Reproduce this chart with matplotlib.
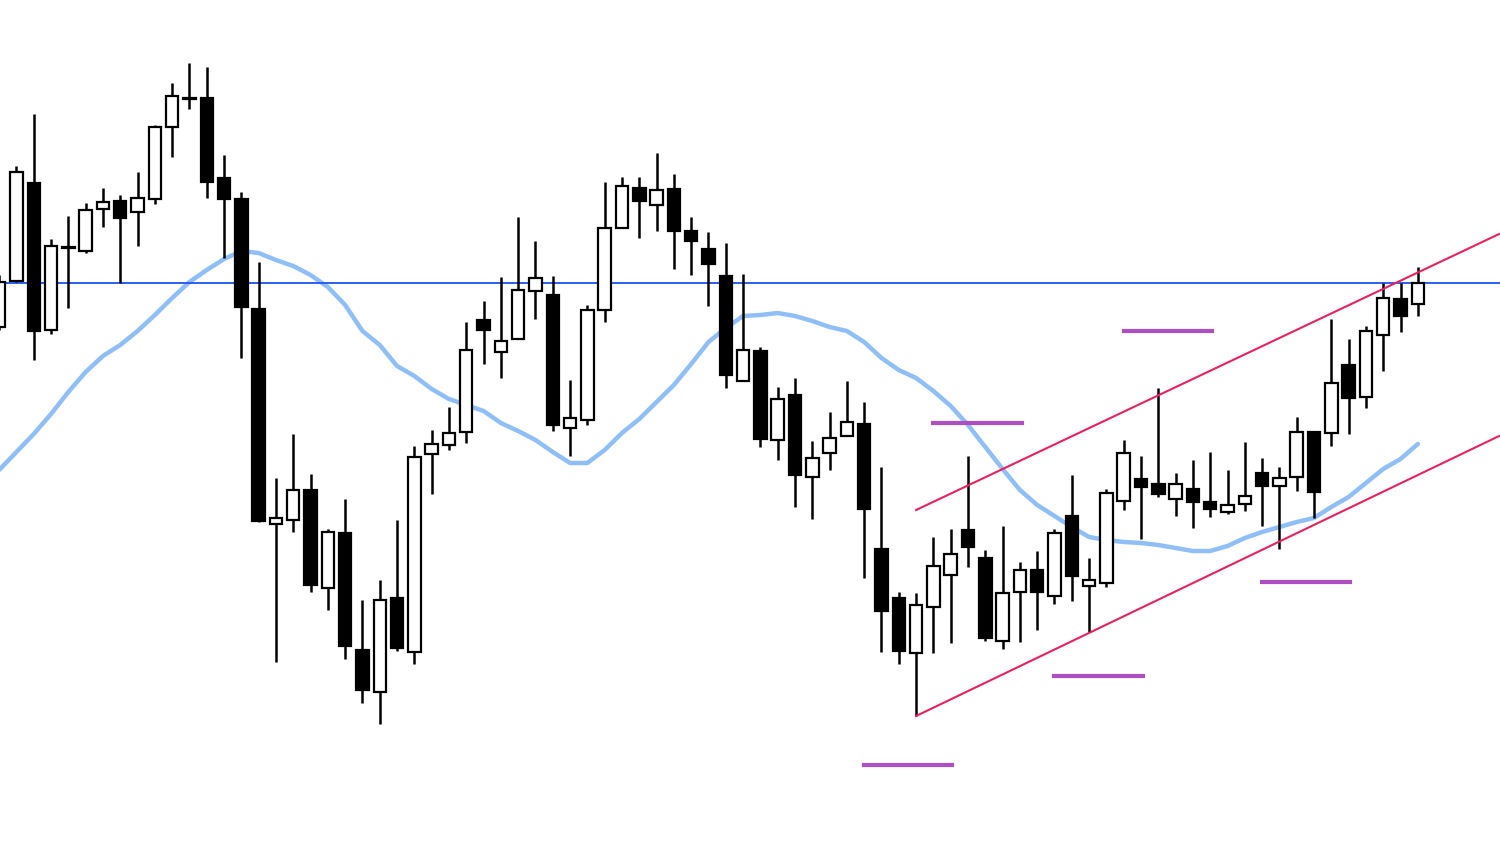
import matplotlib
matplotlib.use("Agg")
import matplotlib.pyplot as plt
import numpy as np

# 차트 값 (세로축은 위가 높은 가격이 되도록 뒤집어서 사용)
opens = [327, 281, 183, 330, 248, 251, 209, 201, 212, 199, 127, 98, 98, 178, 199, 309, 524, 520, 490, 588,
         533, 650, 692, 598, 652, 454, 445, 432, 320, 352, 339, 291, 295, 428, 420, 310, 228, 188, 205, 189,
         231, 249, 276, 381, 351, 440, 395, 477, 453, 436, 424, 549, 598, 653, 607, 575, 530, 558, 641, 592,
         570, 596, 516, 586, 583, 501, 479, 484, 499, 489, 502, 512, 504, 473, 486, 477, 432, 433, 365, 397,
         335, 299, 304]
highs = [275, 166, 114, 239, 216, 203, 188, 195, 172, 125, 83, 63, 67, 155, 192, 262, 478, 434, 474, 529,
         499, 600, 580, 520, 446, 430, 407, 322, 301, 277, 217, 241, 276, 380, 305, 182, 177, 177, 153, 174,
         217, 232, 243, 274, 347, 387, 378, 441, 412, 381, 402, 467, 592, 593, 537, 529, 456, 550, 526, 562,
         551, 529, 475, 558, 489, 440, 456, 388, 473, 460, 452, 470, 442, 458, 467, 417, 431, 319, 339, 326,
         283, 283, 267]
lows = [330, 282, 360, 334, 308, 253, 227, 283, 246, 204, 157, 109, 198, 258, 358, 522, 662, 532, 592, 610,
        659, 703, 724, 651, 664, 494, 450, 443, 364, 378, 339, 319, 431, 456, 425, 322, 228, 238, 231, 269,
        275, 306, 388, 381, 447, 460, 507, 519, 470, 436, 578, 652, 664, 716, 653, 643, 567, 641, 649, 642,
        630, 604, 601, 632, 587, 510, 539, 497, 516, 528, 517, 514, 511, 526, 549, 491, 518, 446, 434, 408,
        371, 332, 316]
closes = [282, 172, 331, 246, 247, 210, 202, 218, 198, 127, 96, 99, 182, 199, 307, 521, 518, 490, 585, 532,
          646, 690, 600, 648, 457, 444, 433, 350, 330, 341, 290, 278, 425, 418, 310, 228, 186, 201, 190, 231,
          241, 264, 375, 350, 439, 399, 475, 458, 438, 422, 509, 611, 651, 605, 566, 554, 547, 638, 593, 570,
          592, 533, 576, 580, 493, 453, 487, 494, 484, 502, 509, 505, 496, 486, 478, 432, 492, 383, 398, 331,
          298, 316, 283]
# 이동평균선
ma = [470, 452, 434, 414, 392, 372, 356, 345, 331, 315, 298, 282, 270, 259, 251, 253, 260, 266, 275, 287,
      305, 331, 345, 366, 376, 389, 399, 405, 411, 423, 431, 440, 452, 463, 463, 450, 433, 419, 402, 385,
      364, 342, 328, 316, 315, 313, 316, 321, 327, 331, 342, 358, 370, 378, 391, 406, 425, 447, 469, 490,
      505, 516, 527, 537, 540, 542, 543, 545, 548, 551, 551, 546, 538, 532, 527, 522, 518, 507, 497, 483,
      469, 459, 444]

# 수평선 / 채널 / 보라색 구간
level = 283
upper_line = [(53, 510), (86.7, 234)]
lower_line = [(53, 716), (86.7, 436)]
seg_start = [50, 54, 61, 65, 73]
seg_level = [765, 423, 676, 331, 582]
seg_len = 5.1

x = np.arange(len(opens))
o = np.array(opens)
c = np.array(closes)

fig = plt.figure(figsize=(15, 8.67), dpi=100)
ax = fig.add_axes([0, 0, 1, 1])

ax.plot(x, ma, color='#90bff7', lw=3.2, zorder=1, solid_capstyle='round')
ax.axhline(level, color='#2a5ff0', lw=1.4, zorder=2)

ax.vlines(x, highs, lows, color='black', lw=1.8, zorder=3)
up = c <= o  # 양봉 (뒤집힌 축)
body_bot = np.minimum(o, c)
body_h = np.maximum(np.abs(o - c), 1)
ax.bar(x[up], body_h[up], bottom=body_bot[up], width=0.72, color='white',
       edgecolor='black', lw=1.6, zorder=4)
ax.bar(x[~up], body_h[~up], bottom=body_bot[~up], width=0.72, color='black',
       edgecolor='black', lw=1.6, zorder=4)

for ln in (upper_line, lower_line):
    ax.plot([p[0] for p in ln], [p[1] for p in ln], color='#e8225c', lw=1.5, zorder=5)

for s, lv in zip(seg_start, seg_level):
    ax.plot([s, s + seg_len], [lv, lv], color='#ab4fc2', lw=3, zorder=5)

ax.set_xlim(0.05, 86.75)
ax.set_ylim(867, 0)
ax.axis('off')

fig.savefig('out.png', dpi=100)
